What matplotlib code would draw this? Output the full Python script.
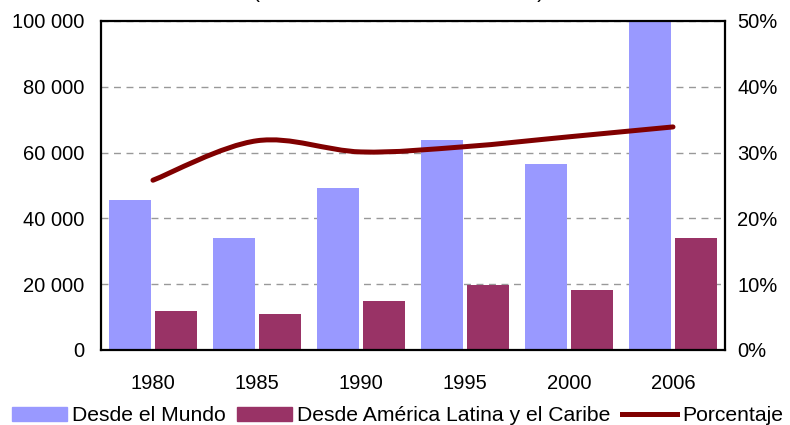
import numpy as np
import matplotlib.pyplot as plt
from matplotlib.path import Path
from matplotlib.patches import PathPatch
from matplotlib.lines import Line2D
from matplotlib.ticker import FuncFormatter

years = ['1980', '1985', '1990', '1995', '2000', '2006']
desde_mundo = [45500, 34000, 49200, 63800, 56500, 100000]
desde_alc = [11800, 10900, 14900, 19800, 18200, 34000]
porcentaje = [25.8, 31.8, 30.1, 30.9, 32.4, 33.9]

c_mundo = '#9999FF'
c_alc = '#993366'
c_pct = '#800000'

plt.rcParams['font.family'] = ['Liberation Sans', 'DejaVu Sans']
plt.rcParams['font.size'] = 14.5

fig = plt.figure(figsize=(7.9, 4.25), dpi=100)
ax = fig.add_axes([0.1278, 0.1765, 0.7899, 0.7741])

x = np.arange(len(years))
w = 0.405
ax.bar(x - 0.22, desde_mundo, w, color=c_mundo, zorder=2)
ax.bar(x + 0.22, desde_alc, w, color=c_alc, zorder=2)

ax.set_xlim(-0.5, len(years) - 0.5)
ax.set_ylim(0, 100000)
ax.set_yticks(np.arange(0, 100001, 20000))
ax.yaxis.set_major_formatter(FuncFormatter(lambda v, p: f'{int(v):,}'.replace(',', ' ')))
ax.set_xticks(x)
ax.set_xticklabels(years)
ax.tick_params(axis='x', length=0, pad=17)
ax.tick_params(axis='y', length=0, pad=12)
ax.grid(axis='y', color='#999999', linestyle=(0, (5, 4)), linewidth=1, zorder=1)
for s in ax.spines.values():
    s.set_linewidth(1.6)
    s.set_color('black')

ax2 = ax.twinx()
ax2.set_ylim(0, 50)
ax2.set_yticks(np.arange(0, 51, 10))
ax2.yaxis.set_major_formatter(FuncFormatter(lambda v, p: f'{int(v)}%'))
ax2.tick_params(axis='y', length=0, pad=9)
for s in ax2.spines.values():
    s.set_visible(False)

# smoothed line (Excel-like) through the data points
pts = np.column_stack([x, porcentaje]).astype(float)
verts = [tuple(pts[0])]
codes = [Path.MOVETO]
n = len(pts)
for i in range(n - 1):
    p0 = pts[max(i - 1, 0)]
    p1 = pts[i]
    p2 = pts[i + 1]
    p3 = pts[min(i + 2, n - 1)]
    c1 = p1 + (p2 - p0) / 6
    c2 = p2 - (p3 - p1) / 6
    verts += [tuple(c1), tuple(c2), tuple(p2)]
    codes += [Path.CURVE4] * 3
ax2.add_patch(PathPatch(Path(verts, codes), facecolor='none', edgecolor=c_pct,
                        linewidth=3.6, capstyle='round', zorder=3))

fig.text(0.505, 1 + 2.5 / 425, '(millones de dólares corrientes)', ha='center',
         va='baseline', fontsize=15)

handles = [plt.Rectangle((0, 0), 1, 1, color=c_mundo),
           plt.Rectangle((0, 0), 1, 1, color=c_alc),
           Line2D([0], [0], color=c_pct, linewidth=3.6)]
labels = ['Desde el Mundo', 'Desde América Latina y el Caribe', 'Porcentaje']
fig.legend(handles, labels, loc='center', bbox_to_anchor=(0.503, 0.022), ncol=3,
           frameon=False, fontsize=15.2, handlelength=2.6, handleheight=0.67,
           handletextpad=0.24, columnspacing=0.55, borderaxespad=0, borderpad=0)

fig.savefig('out.png', dpi=100)
